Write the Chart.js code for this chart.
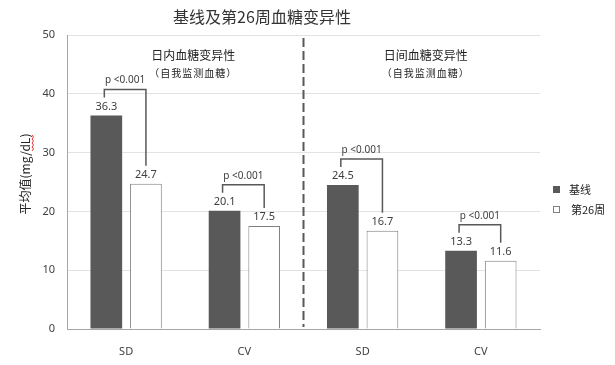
<!DOCTYPE html>
<html>
<head>
<meta charset="utf-8">
<script src="https://cdn.jsdelivr.net/npm/chart.js@4"></script>
<style>
  html, body { margin: 0; padding: 0; background: #fff; }
  #wrap { width: 615px; height: 365px; }
</style>
</head>
<body>
<div id="wrap"><canvas id="glucoseChart" width="615" height="365"></canvas></div>
<script>
// data
const categories = ['SD', 'CV', 'SD', 'CV'];
const seriesNames = ['基线', '第26周'];
const baseline = [36.3, 20.1, 24.5, 13.3];
const week26 = [24.7, 17.5, 16.7, 11.6];
const pValues = ['p <0.001', 'p <0.001', 'p <0.001', 'p <0.001'];
const yTicks = [0, 10, 20, 30, 40, 50];
const panelTitles = ['日内血糖变异性', '日间血糖变异性'];
const panelSubtitle = '（自我监测血糖）';
const chartTitle = '基线及第26周血糖变异性';
const yTitle = '平均值(mg/dL)';

const darkColor = '#595959';
const textColor = '#404040';
const cjk = "'Noto Sans CJK SC', 'Noto Sans', sans-serif";
const latin = "'Noto Sans', 'Noto Sans CJK SC', sans-serif";

const extras = {
    id: 'extras',
    afterDatasetsDraw(chart) {
        const ctx = chart.ctx;
        const area = chart.chartArea;
        const x = chart.scales.x;
        const dark = chart.getDatasetMeta(0).data;
        const light = chart.getDatasetMeta(1).data;
        ctx.save();

        // title
        ctx.fillStyle = '#333';
        ctx.textAlign = 'center';
        ctx.textBaseline = 'middle';
        ctx.font = '16px ' + cjk;
        ctx.fillText(chartTitle, 262, 17);

        // dashed divider between the two panels
        const midX = (x.getPixelForValue(1) + x.getPixelForValue(2)) / 2;
        ctx.strokeStyle = darkColor;
        ctx.lineWidth = 2;
        ctx.setLineDash([9, 4]);
        ctx.beginPath();
        ctx.moveTo(midX, area.top + 3);
        ctx.lineTo(midX, area.bottom - 2);
        ctx.stroke();
        ctx.setLineDash([]);

        // panel titles
        const centers = [(area.left + midX) / 2 + 8, (midX + area.right) / 2 + 4];
        centers.forEach((cx, i) => {
            ctx.fillStyle = '#222';
            ctx.font = '12px ' + cjk;
            ctx.fillText(panelTitles[i], cx, area.top + 20);
            ctx.font = '10px ' + cjk;
            ctx.letterSpacing = '1px';
            ctx.fillText(panelSubtitle, cx, area.top + 38);
            ctx.letterSpacing = '0px';
        });

        // value labels
        ctx.fillStyle = textColor;
        ctx.font = '11px ' + latin;
        dark.forEach((bar, i) => ctx.fillText(baseline[i].toFixed(1), bar.x, bar.y - 9));
        light.forEach((bar, i) => ctx.fillText(week26[i].toFixed(1), bar.x, bar.y - 9));

        // significance brackets
        ctx.strokeStyle = darkColor;
        ctx.lineWidth = 1.5;
        dark.forEach((bar, i) => {
            const top = bar.y - 26;
            const x1 = bar.x - 2;
            const x2 = light[i].x;
            ctx.beginPath();
            ctx.moveTo(x1, top + 8);
            ctx.lineTo(x1, top);
            ctx.lineTo(x2, top);
            ctx.lineTo(x2, light[i].y - 18);
            ctx.stroke();
            ctx.fillStyle = textColor;
            ctx.font = '10px ' + latin;
            ctx.fillText(pValues[i], (x1 + x2) / 2, top - 9);
        });

        // legend
        ctx.textAlign = 'left';
        ctx.font = '11px ' + cjk;
        const fills = [darkColor, '#fff'];
        seriesNames.forEach((name, i) => {
            const ly = 189 + i * 20;
            ctx.fillStyle = fills[i];
            ctx.fillRect(553, ly - 3, 7, 7);
            if (i === 1) {
                ctx.strokeStyle = '#7f7f7f';
                ctx.lineWidth = 1;
                ctx.strokeRect(553.5, ly - 2.5, 6, 6);
            }
            ctx.fillStyle = '#222';
            ctx.fillText(name, 569 + i * 2, ly + 1);
        });

        // y axis title
        ctx.save();
        ctx.translate(25, 174);
        ctx.rotate(-Math.PI / 2);
        ctx.textAlign = 'center';
        ctx.fillStyle = '#222';
        ctx.font = '12px ' + cjk;
        ctx.fillText(yTitle, 0, 0);
        ctx.restore();

        // spell-check squiggle under "dL"
        ctx.strokeStyle = '#e03030';
        ctx.lineWidth = 1;
        ctx.beginPath();
        for (let k = 0; k <= 8; k++) {
            const yy = 135 + k * 2;
            const xx = 32 + (k % 2 === 0 ? 0 : 1.5);
            if (k === 0) ctx.moveTo(xx, yy); else ctx.lineTo(xx, yy);
        }
        ctx.stroke();

        ctx.restore();
    }
};

const glucoseCtx = document.getElementById('glucoseChart').getContext('2d');
const glucoseChart = new Chart(glucoseCtx, {
    type: 'bar',
    data: {
        labels: categories,
        datasets: [{
            label: seriesNames[0],
            data: baseline,
            backgroundColor: darkColor,
            borderWidth: 0,
            categoryPercentage: 0.67,
            barPercentage: 0.8
        }, {
            label: seriesNames[1],
            data: week26,
            backgroundColor: '#ffffff',
            borderColor: '#7f7f7f',
            borderWidth: 1,
            categoryPercentage: 0.67,
            barPercentage: 0.8
        }]
    },
    options: {
        responsive: false,
        animation: false,
        layout: {
            padding: { left: 0, right: 75, top: 35, bottom: 0 }
        },
        scales: {
            x: {
                grid: { display: false },
                border: { color: '#a6a6a6', width: 1 },
                ticks: {
                    color: textColor,
                    padding: 8,
                    font: { size: 11, family: latin }
                },
                afterFit(scale) { scale.height = 36; }
            },
            y: {
                min: 0,
                max: 50,
                afterBuildTicks(scale) {
                    scale.ticks = yTicks.map(v => ({ value: v }));
                },
                grid: {
                    color: '#e3e3e3',
                    drawTicks: false
                },
                border: { color: '#a6a6a6', width: 1 },
                ticks: {
                    color: textColor,
                    padding: 12,
                    font: { size: 11, family: latin }
                },
                afterFit(scale) { scale.width = 67; }
            }
        },
        plugins: {
            legend: { display: false },
            tooltip: { enabled: false }
        }
    },
    plugins: [extras]
});
</script>
</body>
</html>
